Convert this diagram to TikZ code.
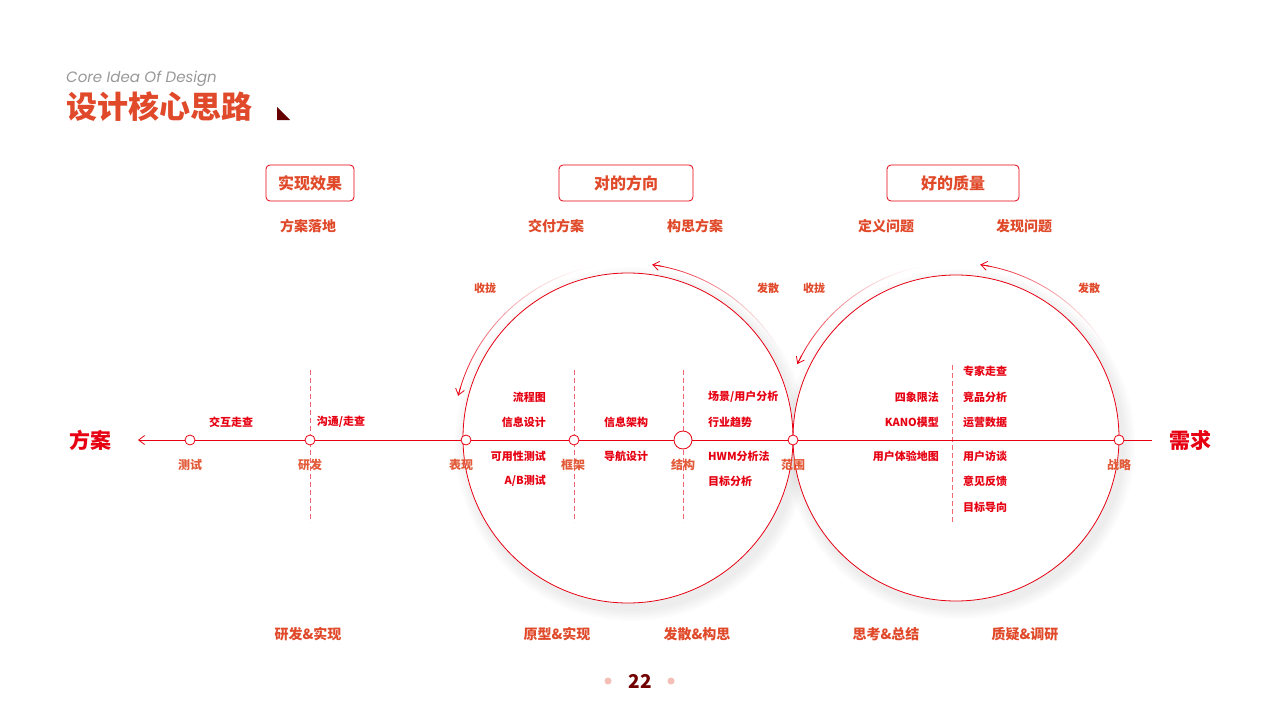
\documentclass[tikz,border=0pt]{standalone}
\usepackage{fontspec}
\setmainfont{Noto Sans CJK SC}
\newfontfamily\latin{Poppins}
\usetikzlibrary{arrows.meta}
\definecolor{rd}{HTML}{E60012}
\definecolor{og}{HTML}{E04A2A}
\definecolor{lb}{HTML}{E25A38}
\begin{document}
\begin{tikzpicture}[x=1pt,y=-1pt,
  t/.style={font=\bfseries\fontsize{11}{11}\selectfont,text=rd,inner sep=0},
  s/.style={font=\bfseries\fontsize{14}{14}\selectfont,text=og,inner sep=0},
  ax/.style={font=\bfseries\fontsize{12}{12}\selectfont,text=lb,inner sep=0},
  dot/.style={circle,draw=rd,fill=white,line width=0.8pt,minimum size=10pt,inner sep=0},
  tag/.style={draw=rd,rounded corners=4pt,fill=white,line width=0.8pt,font=\bfseries\fontsize{16}{16}\selectfont,text=og,minimum height=36pt,inner sep=0},
  dsh/.style={draw=rd!60,dash pattern=on 5pt off 3pt,line width=0.6pt}]
\path[use as bounding box] (0,0) rectangle (1280,720);
\fill[white] (0,0) rectangle (1280,720);
% shadows
\foreach \i in {1,...,6}{\fill[black,opacity=0.012] (632,444) circle ({165+2*\i}); \fill[black,opacity=0.012] (960,444) circle ({163+2*\i});}
\fill[white] (628,438) circle (165); \fill[white] (956,438) circle (163);
\draw[rd,line width=0.8pt] (628,438) circle (165);
\draw[rd,line width=0.8pt] (956,438) circle (163);
% title
\node[anchor=west,inner sep=0,font=\latin\itshape\fontsize{15}{15}\selectfont,text=black!40] (en) at (66,79) {Core Idea Of Design};
\node[anchor=west,inner sep=0,font=\bfseries\fontsize{31}{31}\selectfont,text=og] (ti) at (66,107) {设计核心思路};
\fill[red!40!black] (277,107) -- (290,120) -- (277,120) -- cycle;
% gradient arcs
\foreach \cx/\cy/\r/\a/\b in {628/438/175/28/82, 628/438/175/100/166, 956/438/175/28/82, 956/438/175/100/155}{
  \foreach \k in {0,...,39}{
    \pgfmathsetmacro\sa{\a+(\b-\a)*\k/40}
    \pgfmathsetmacro\ea{\a+(\b-\a)*(\k+1)/40}
    \pgfmathsetmacro\op{((\k+1)/40)^1.5}
    \draw[rd,opacity=\op,line width=0.8pt] ({\cx+\r*cos(\sa)},{\cy-\r*sin(\sa)}) arc[start angle=-\sa,end angle=-\ea,radius=\r];
  }
  \pgfmathsetmacro\xe{\cx+\r*cos(\b)}\pgfmathsetmacro\ye{\cy-\r*sin(\b)}
  \pgfmathsetmacro\xf{\cx+\r*cos(\b-3)}\pgfmathsetmacro\yf{\cy-\r*sin(\b-3)}
  \draw[rd,line width=0.8pt,-{Straight Barb[length=6pt,width=9pt]}] (\xf,\yf) -- (\xe,\ye);
}
% dashed lines
\draw[dsh] (310,370) -- (310,522);
\draw[dsh] (574,370) -- (574,522);
\draw[dsh] (683,370) -- (683,522);
\draw[dsh] (952,365) -- (952,522);
% axis
\coordinate (L) at (138,440); \coordinate (R) at (1152,440);
\draw[rd,line width=0.8pt,-{Straight Barb[length=6pt,width=9pt]}] (R) -- (L);
\node[dot] (n1) at (190,440) {}; \node[dot] (n2) at (310,440) {};
\node[dot] (n3) at (466,440) {}; \node[dot] (n4) at (574,440) {};
\node[dot,minimum size=18pt] (n5) at (683,440) {}; \node[dot] (n6) at (793,440) {};
\node[dot] (n7) at (1119,440) {};
\node[ax] at (190,465) {测试}; \node[ax] at (310,465) {研发}; \node[ax] at (461,465) {表现};
\node[ax] at (573,465) {框架}; \node[ax] at (683,465) {结构}; \node[ax] at (793,465) {范围};
\node[ax] at (1119,465) {战略};
\node[font=\bfseries\fontsize{21}{21}\selectfont,text=rd,inner sep=0] at (90,440) {方案};
\node[font=\bfseries\fontsize{21}{21}\selectfont,text=rd,inner sep=0] at (1190,440) {需求};
\node[t] at (231,422) {交互走查}; \node[t] at (341,422) {沟通/走查};
% tags
\node[tag,minimum width=88pt] (g1) at (310,183) {实现效果};
\node[tag,minimum width=134pt] (g2) at (626,183) {对的方向};
\node[tag,minimum width=132pt] (g3) at (953,183) {好的质量};
\foreach \x/\l in {308/方案落地,556/交付方案,695/构思方案,886/定义问题,1024/发现问题}{\node[s] at (\x,226) {\l};}
\foreach \x/\l in {308/研发\&实现,557/原型\&实现,697/发散\&构思,886/思考\&总结,1025/质疑\&调研}{\node[s] at (\x,634) {\l};}
\foreach \x/\l in {485/收拢,768/发散,814/收拢,1089/发散}{\node[t,text=og] at (\x,288) {\l};}
% inner texts
\foreach \y/\l in {397/流程图,422/信息设计,456/可用性测试,481/{A/B测试}}{\node[t,anchor=east] at (546,\y) {\l};}
\node[t] at (626,422) {信息架构}; \node[t] at (626,456) {导航设计};
\foreach \y/\l in {397/{场景/用户分析},422/行业趋势,456/HWM分析法,481/目标分析}{\node[t,anchor=west] at (708,\y) {\l};}
\foreach \y/\l in {397/四象限法,422/KANO模型,456/用户体验地图}{\node[t,anchor=east] at (939,\y) {\l};}
\foreach \y/\l in {371/专家走查,397/竞品分析,422/运营数据,456/用户访谈,481/意见反馈,507/目标导向}{\node[t,anchor=west] at (963,\y) {\l};}
% page
\fill[og!35] (608,681) circle (3.5); \fill[og!35] (671,681) circle (3.5);
\node[font=\bfseries\fontsize{19}{19}\selectfont,text=red!45!black,inner sep=0] (pg) at (640,681) {22};
\end{tikzpicture}
\end{document}
